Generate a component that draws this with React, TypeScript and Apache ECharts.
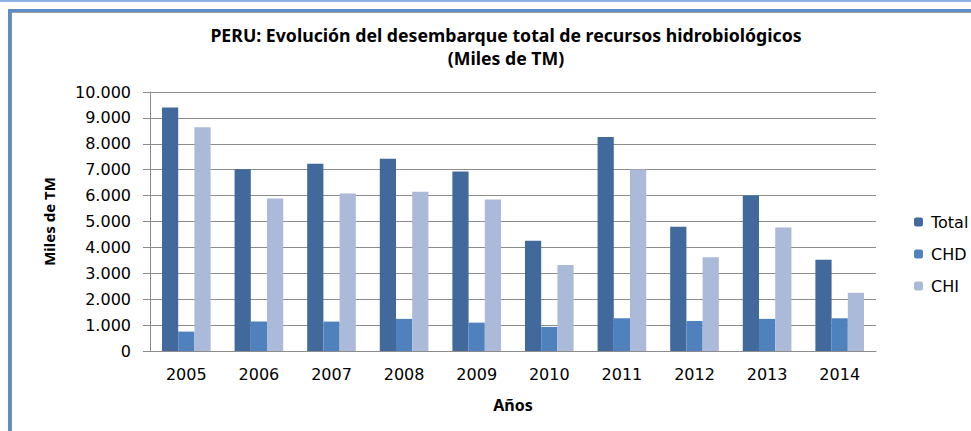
import React, { useEffect, useRef } from "react";
import * as echarts from "echarts";

const years = ["2005", "2006", "2007", "2008", "2009", "2010", "2011", "2012", "2013", "2014"];
const totalValues = [9405, 7020, 7225, 7420, 6930, 4255, 8260, 4795, 6005, 3520];
const chdValues = [750, 1135, 1135, 1240, 1095, 930, 1265, 1160, 1240, 1265];
const chiValues = [8635, 5885, 6080, 6145, 5850, 3325, 7010, 3620, 4770, 2245];
const seriesNames = ["Total", "CHD", "CHI"];
const seriesColors = ["#41699B", "#4F81BD", "#AABAD8"];

const fmt = (v: number) => {
  const s = Math.round(v).toString();
  return s.replace(/\B(?=(\d{3})+(?!\d))/g, ".");
};

export default function App() {
  const ref = useRef<HTMLDivElement>(null);
  useEffect(() => {
    if (!ref.current) return;
    const chart = echarts.init(ref.current, undefined, { renderer: "svg" });
    const dataArr = [totalValues, chdValues, chiValues];
    chart.setOption({
      animation: false,
      backgroundColor: "#ffffff",
      title: {
        text: "PERU: Evolución del desembarque total de recursos hidrobiológicos\n(Miles de TM)",
        left: 501,
        top: 18,
        textAlign: "center",
        textStyle: {
          fontFamily: "Noto Sans",
          fontWeight: "bold",
          fontSize: 17.7,
          lineHeight: 23,
          color: "#000",
        },
      },
      legend: {
        orient: "vertical",
        left: 909,
        top: 209,
        itemWidth: 9,
        itemHeight: 9,
        itemGap: 16,
        data: seriesNames,
        textStyle: { fontFamily: "DejaVu Sans", fontSize: 16, color: "#000", padding: [0, 0, 0, 3] },
      },
      grid: { left: 150, right: 95, top: 92, bottom: 80, containLabel: false },
      xAxis: {
        type: "category",
        data: years,
        name: "Años",
        nameLocation: "middle",
        nameGap: 46,
        nameTextStyle: { fontFamily: "Noto Sans", fontWeight: "bold", fontSize: 16, color: "#000" },
        axisLine: { show: true, lineStyle: { color: "#8C8C8C", width: 1 } },
        axisTick: { show: false },
        axisLabel: { fontFamily: "DejaVu Sans", fontSize: 16, color: "#000", margin: 15 },
      },
      yAxis: {
        type: "value",
        min: 0,
        max: 10000,
        interval: 1000,
        name: "Miles de TM",
        nameLocation: "middle",
        nameGap: 94,
        nameTextStyle: { fontFamily: "Noto Sans", fontWeight: "bold", fontSize: 15, color: "#000" },
        axisLine: { show: true, lineStyle: { color: "#8C8C8C", width: 1 } },
        axisTick: { show: true, length: 7, lineStyle: { color: "#8C8C8C" } },
        splitLine: { show: true, lineStyle: { color: "#8C8C8C", width: 1 } },
        axisLabel: {
          fontFamily: "DejaVu Sans",
          fontSize: 16,
          color: "#000",
          margin: 19,
          formatter: (v: number) => fmt(v),
        },
      },
      series: seriesNames.map((n, i) => ({
        name: n,
        type: "bar",
        data: dataArr[i],
        barGap: "0%",
        barCategoryGap: "33%",
        itemStyle: { color: seriesColors[i] },
      })),
      graphic: [
        { type: "rect", shape: { x: 0, y: 0, width: 971, height: 2 }, style: { fill: "#8DB3E2" }, silent: true },
        { type: "rect", shape: { x: 8, y: 9, width: 963, height: 3 }, style: { fill: "#5B8CCB" }, silent: true },
        { type: "rect", shape: { x: 11, y: 12, width: 960, height: 1 }, style: { fill: "#A0A0A0" }, silent: true },
        { type: "rect", shape: { x: 8, y: 9, width: 3, height: 422 }, style: { fill: "#5B8CCB" }, silent: true },
        { type: "rect", shape: { x: 11, y: 12, width: 1, height: 419 }, style: { fill: "#8C8C8C" }, silent: true },
      ],
    });
    return () => chart.dispose();
  }, []);
  return (
    <div
      ref={ref}
      style={{ position: "fixed", left: 0, top: 0, width: 971, height: 431 }}
    />
  );
}
